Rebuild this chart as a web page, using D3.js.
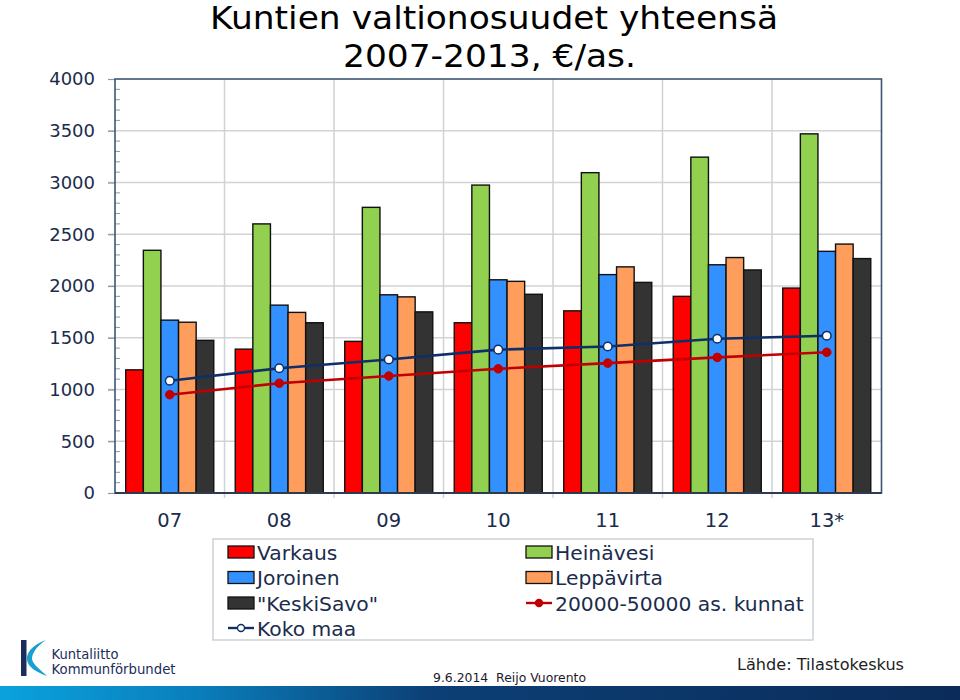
<!DOCTYPE html>
<html>
<head>
<meta charset="utf-8">
<script src="https://cdn.jsdelivr.net/npm/d3@7"></script>
<style>
  html, body { margin: 0; padding: 0; background: #fff; }
  svg { display: block; }
</style>
</head>
<body>
<svg id="chart" width="960" height="700"></svg>
<script>
// ---- Data ----
const years = ["07", "08", "09", "10", "11", "12", "13*"];
const varkaus    = [1190, 1390, 1465, 1645, 1760, 1900, 1980];
const heinavesi  = [2345, 2600, 2760, 2975, 3095, 3245, 3470];
const joroinen   = [1670, 1815, 1915, 2060, 2110, 2205, 2335];
const leppavirta = [1650, 1745, 1895, 2045, 2185, 2275, 2405];
const keskisavo  = [1475, 1645, 1750, 1920, 2035, 2155, 2265];
const kokoMaa    = [1085, 1205, 1290, 1385, 1415, 1490, 1520];
const kunnat     = [950, 1060, 1130, 1200, 1255, 1310, 1360];
const yTicks = [0, 500, 1000, 1500, 2000, 2500, 3000, 3500, 4000];

const barSeries = [
  { name: "Varkaus", values: varkaus, color: "#ff0000" },
  { name: "Heinävesi", values: heinavesi, color: "#92d050" },
  { name: "Joroinen", values: joroinen, color: "#3391ff" },
  { name: "Leppävirta", values: leppavirta, color: "#ff9d5c" },
  { name: "\"KeskiSavo\"", values: keskisavo, color: "#333333" }
];

const svg = d3.select("#chart");
const pL = 115, pR = 881.5, pT = 79, pB = 493;
const axisColor = "#3d5575";
const textColor = "#1b2c4c";
const fontMain = "'DejaVu Sans',Verdana,sans-serif";

const x = d3.scaleBand().domain(years).range([pL, pR]).paddingInner(0).paddingOuter(0);
const xi = d3.scaleBand().domain(d3.range(barSeries.length)).range([0, x.bandwidth()])
  .paddingInner(0).paddingOuter(0.61);
const y = d3.scaleLinear().domain([0, 4000]).range([pB, pT]);

// ---- Title ----
const title = svg.append("g").attr("font-family", fontMain)
  .attr("font-size", 31.5).attr("fill", "#000");
title.append("text").attr("x", 210).attr("y", 29).attr("textLength", 568)
  .attr("lengthAdjust", "spacingAndGlyphs").text("Kuntien valtionosuudet yhteensä");
title.append("text").attr("x", 343).attr("y", 67).attr("textLength", 293)
  .attr("lengthAdjust", "spacingAndGlyphs").text("2007-2013, €/as.");

// ---- Grid ----
const grid = svg.append("g");
grid.selectAll("line.h").data(yTicks.filter(d => d > 0 && d < 4000)).join("line")
  .attr("x1", pL - 7).attr("x2", pR)
  .attr("y1", d => y(d)).attr("y2", d => y(d))
  .attr("stroke", "#d3d3d3").attr("stroke-width", 1.5);
grid.selectAll("line.v").data(years.slice(1)).join("line")
  .attr("x1", d => x(d)).attr("x2", d => x(d))
  .attr("y1", pT).attr("y2", pB + 5)
  .attr("stroke", "#cdd2d8").attr("stroke-width", 1.5);

// minor ticks
svg.append("g").selectAll("line").data(d3.range(100, 4000, 100).filter(v => v % 500 !== 0)).join("line")
  .attr("x1", pL).attr("x2", pL + 5)
  .attr("y1", d => y(d)).attr("y2", d => y(d))
  .attr("stroke", "#8a97a8").attr("stroke-width", 1);

// y axis with major ticks outward
const yAxis = svg.append("g").attr("transform", `translate(${pL},0)`)
  .call(d3.axisLeft(y).tickValues(yTicks).tickSize(7).tickPadding(13).tickFormat(d3.format("d")));
yAxis.select(".domain").remove();
yAxis.selectAll(".tick line").attr("stroke", "#8a97a8").attr("stroke-width", 1.2);
yAxis.selectAll(".tick text").attr("font-family", fontMain)
  .attr("font-size", 18).attr("fill", textColor);

// ---- Bars ----
const groups = svg.append("g").selectAll("g").data(years).join("g")
  .attr("transform", d => `translate(${x(d)},0)`);
groups.selectAll("rect").data((d, i) => barSeries.map((s, k) => ({ k, v: s.values[i], color: s.color })))
  .join("rect")
  .attr("x", d => xi(d.k)).attr("width", xi.bandwidth())
  .attr("y", d => y(d.v)).attr("height", d => y(0) - y(d.v))
  .attr("fill", d => d.color).attr("stroke", "#111").attr("stroke-width", 1.4);

// ---- Plot frame ----
svg.append("rect").attr("x", pL).attr("y", pT).attr("width", pR - pL).attr("height", pB - pT)
  .attr("fill", "none").attr("stroke", axisColor).attr("stroke-width", 1.6);
svg.append("line").attr("x1", pL).attr("x2", pR).attr("y1", pB).attr("y2", pB)
  .attr("stroke", "#2e3b4e").attr("stroke-width", 1.8);

// ---- Lines ----
const cx = d => x(d) + x.bandwidth() / 2;
const lineGen = vals => d3.line().x((d, i) => cx(years[i])).y(d => y(d))(vals);

svg.append("path").attr("d", lineGen(kunnat)).attr("fill", "none")
  .attr("stroke", "#c00000").attr("stroke-width", 2.6);
svg.append("g").selectAll("circle").data(kunnat).join("circle")
  .attr("cx", (d, i) => cx(years[i])).attr("cy", d => y(d)).attr("r", 4.3)
  .attr("fill", "#c00000").attr("stroke", "#c00000").attr("stroke-width", 1);

svg.append("path").attr("d", lineGen(kokoMaa)).attr("fill", "none")
  .attr("stroke", "#0f2f66").attr("stroke-width", 2.6);
svg.append("g").selectAll("circle").data(kokoMaa).join("circle")
  .attr("cx", (d, i) => cx(years[i])).attr("cy", d => y(d)).attr("r", 4.3)
  .attr("fill", "#fff").attr("stroke", "#0f2f66").attr("stroke-width", 1.5);

// ---- X labels ----
const xAxis = svg.append("g").attr("transform", `translate(0,${pB})`)
  .call(d3.axisBottom(x).tickSize(0).tickPadding(20));
xAxis.select(".domain").remove();
xAxis.selectAll(".tick text").attr("font-family", fontMain)
  .attr("font-size", 19.5).attr("fill", textColor);

// ---- Legend ----
const legend = svg.append("g");
legend.append("rect").attr("x", 213).attr("y", 539).attr("width", 600).attr("height", 101)
  .attr("fill", "#fff").attr("stroke", "#c3cbd3").attr("stroke-width", 1.3);
const legendItems = [
  { name: "Varkaus", type: "bar", color: "#ff0000", col: 0, row: 0 },
  { name: "Heinävesi", type: "bar", color: "#92d050", col: 1, row: 0 },
  { name: "Joroinen", type: "bar", color: "#3391ff", col: 0, row: 1 },
  { name: "Leppävirta", type: "bar", color: "#ff9d5c", col: 1, row: 1 },
  { name: "\"KeskiSavo\"", type: "bar", color: "#333333", col: 0, row: 2 },
  { name: "20000-50000 as. kunnat", type: "lineFilled", color: "#c00000", col: 1, row: 2 },
  { name: "Koko maa", type: "lineOpen", color: "#0f2f66", col: 0, row: 3 }
];
const colX = [228, 526];
const rowY = [552, 577.5, 603, 628];
const li = legend.selectAll("g.item").data(legendItems).join("g")
  .attr("transform", d => `translate(${colX[d.col]},${rowY[d.row]})`);
li.filter(d => d.type === "bar").append("rect")
  .attr("x", 0).attr("y", -6).attr("width", 26).attr("height", 12)
  .attr("fill", d => d.color).attr("stroke", "#111").attr("stroke-width", 1.3);
li.filter(d => d.type !== "bar").append("line")
  .attr("x1", 0).attr("x2", 26).attr("y1", 0).attr("y2", 0)
  .attr("stroke", d => d.color).attr("stroke-width", 2.4);
li.filter(d => d.type !== "bar").append("circle")
  .attr("cx", 13).attr("cy", 0).attr("r", 3.5)
  .attr("fill", d => d.type === "lineFilled" ? d.color : "#fff")
  .attr("stroke", d => d.color).attr("stroke-width", 1.4);
li.append("text").attr("x", 29).attr("y", 7.5)
  .attr("font-family", fontMain).attr("font-size", 20.3)
  .attr("fill", textColor).text(d => d.name);

// ---- Footer ----
const defs = svg.append("defs");
const grad = defs.append("linearGradient").attr("id", "footGrad").attr("x1", "0").attr("x2", "1").attr("y1", "0").attr("y2", "0");
grad.append("stop").attr("offset", "0").attr("stop-color", "#0aa2dd");
grad.append("stop").attr("offset", "0.2").attr("stop-color", "#0a7fbd");
grad.append("stop").attr("offset", "0.45").attr("stop-color", "#0c3f75");
grad.append("stop").attr("offset", "1").attr("stop-color", "#0b2c5a");
svg.append("rect").attr("x", 0).attr("y", 686).attr("width", 960).attr("height", 14).attr("fill", "url(#footGrad)");

// logo
const logo = svg.append("g");
logo.append("rect").attr("x", 21).attr("y", 640).attr("width", 5.5).attr("height", 36).attr("fill", "#1b2d5b");
logo.append("path")
  .attr("d", "M46,640 C32,645 26,653 27,660 C28,667 36,672 47,676 C41,670 33,665 32,659 C32,653 37,646 46,640 Z")
  .attr("fill", "#1aa0cf");
logo.append("text").attr("x", 51.5).attr("y", 659).attr("font-family", fontMain)
  .attr("font-size", 13.5).attr("fill", "#1b2d5b").attr("textLength", 67).attr("lengthAdjust", "spacingAndGlyphs").text("Kuntaliitto");
logo.append("text").attr("x", 51.5).attr("y", 674).attr("font-family", fontMain)
  .attr("font-size", 13.5).attr("fill", "#1b2d5b").attr("textLength", 124).attr("lengthAdjust", "spacingAndGlyphs").text("Kommunförbundet");

svg.append("text").attr("x", 433).attr("y", 682).attr("font-family", fontMain)
  .attr("font-size", 11.5).attr("fill", "#1a1a2a").attr("textLength", 153).attr("lengthAdjust", "spacingAndGlyphs")
  .attr("xml:space", "preserve").text("9.6.2014  Reijo Vuorento");
svg.append("text").attr("x", 737).attr("y", 670).attr("font-family", fontMain)
  .attr("font-size", 15.5).attr("fill", "#222").attr("textLength", 167).attr("lengthAdjust", "spacingAndGlyphs")
  .text("Lähde: Tilastokeskus");
</script>
</body>
</html>
